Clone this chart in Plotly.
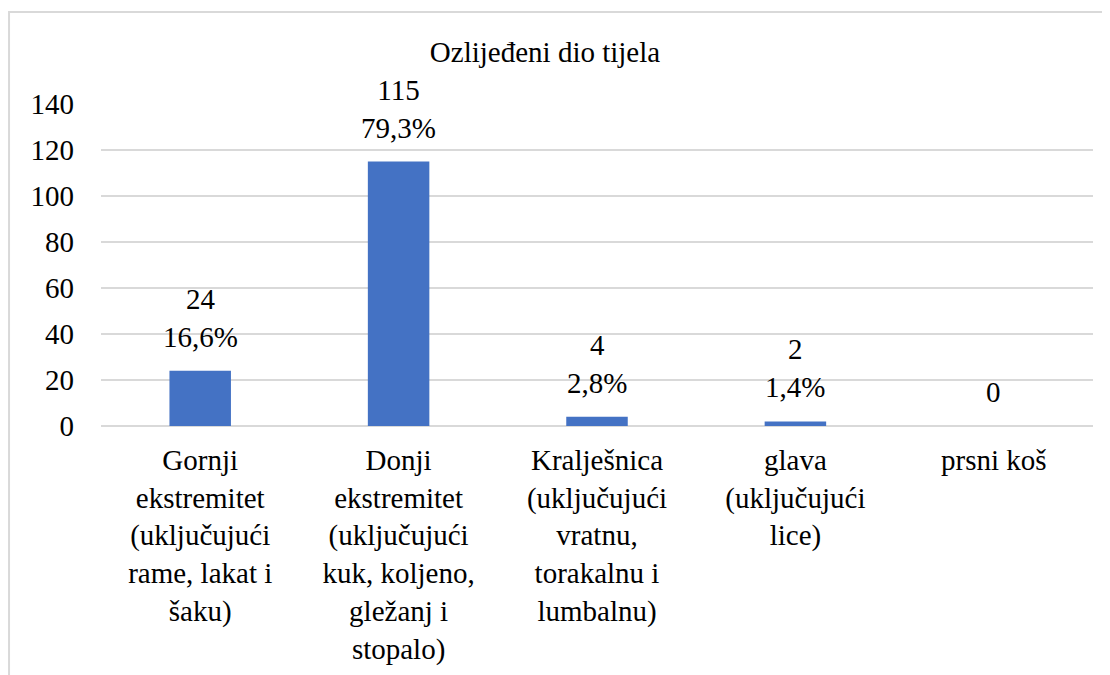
import plotly.graph_objects as go

# Podaci: ozlijeđeni dio tijela
kategorije = [
    "Gornji<br>ekstremitet<br>(uključujući<br>rame, lakat i<br>šaku)",
    "Donji<br>ekstremitet<br>(uključujući<br>kuk, koljeno,<br>gležanj i<br>stopalo)",
    "Kralješnica<br>(uključujući<br>vratnu,<br>torakalnu i<br>lumbalnu)",
    "glava<br>(uključujući<br>lice)",
    "prsni koš",
]
broj = [24, 115, 4, 2, 0]
postotak = ["16,6%", "79,3%", "2,8%", "1,4%", ""]
y_ticks = [0, 20, 40, 60, 80, 100, 120, 140]

fig = go.Figure()
fig.add_trace(go.Bar(
    x=kategorije,
    y=broj,
    marker=dict(color="#4472C4", line=dict(width=0)),
    width=0.31,
    hoverinfo="skip",
))

# Oznake iznad stupaca
for kat, n, p in zip(kategorije, broj, postotak):
    tekst = f"{n}<br>{p}" if p else f"{n}"
    fig.add_annotation(
        x=kat, y=n, text=tekst, showarrow=False,
        yanchor="bottom", yshift=16,
        font=dict(family="Times New Roman", size=29, color="#000000"),
    )

# Okvir grafikona
fig.add_shape(
    type="rect", xref="paper", yref="paper",
    x0=-0.0927, x1=1.05, y0=-1.2, y1=1.2857,
    line=dict(color="#D9D9D9", width=2), layer="below",
)

fig.update_layout(
    title=dict(text="Ozlijeđeni dio tijela", x=0.4838, xanchor="center",
               y=0.9348, yanchor="middle",
               font=dict(family="Times New Roman", size=29, color="#000000")),
    font=dict(family="Times New Roman", size=29, color="#000000"),
    width=1110, height=675,
    margin=dict(l=93, r=25, t=96, b=257),
    paper_bgcolor="white", plot_bgcolor="white",
    showlegend=False,
)
fig.update_yaxes(
    range=[0, 140], tickvals=y_ticks,
    tickfont=dict(family="Times New Roman", size=29, color="#000000"),
    showgrid=True, gridcolor="#D9D9D9", gridwidth=1.5,
    zeroline=True, zerolinecolor="#D9D9D9", zerolinewidth=1.5,
    ticklabelstandoff=26, showline=False,
)
fig.update_xaxes(
    tickfont=dict(family="Times New Roman", size=29, color="#000000"),
    showgrid=False, showline=False, ticks="",
    ticklabelstandoff=14, tickangle=0,
)

fig.write_html("out.html")
